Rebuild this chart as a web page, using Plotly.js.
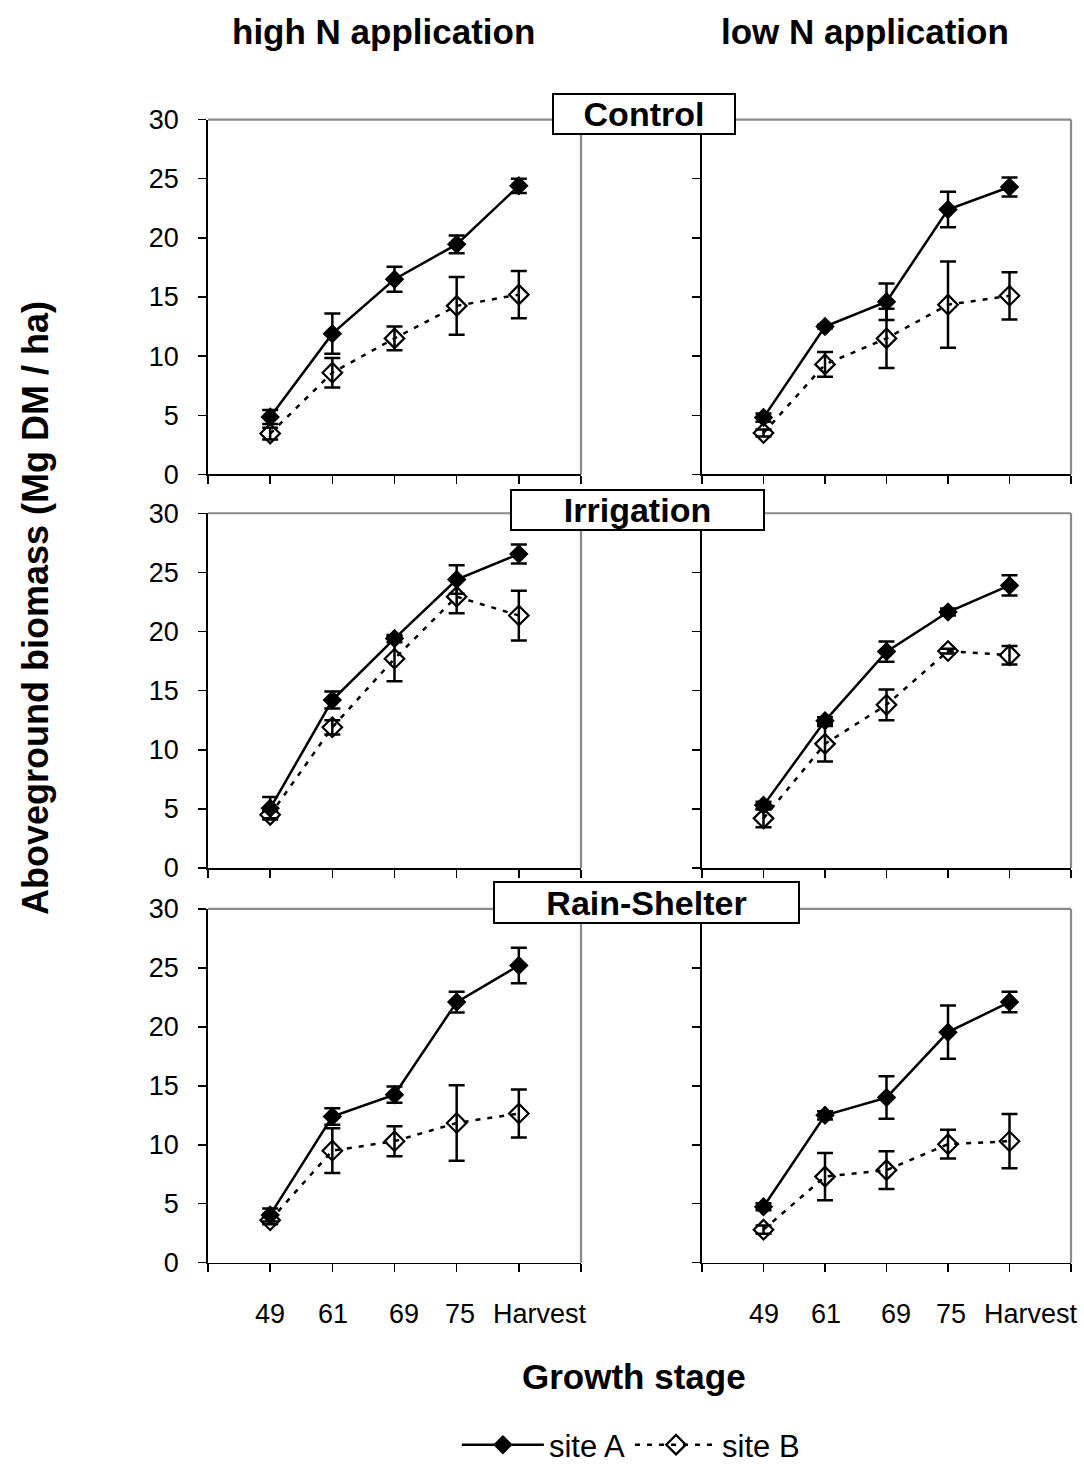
<!DOCTYPE html>
<html>
<head>
<meta charset="utf-8">
<script src="https://cdn.plot.ly/plotly-3.0.1.min.js"></script>
<style>html,body{margin:0;padding:0;background:#fff;}#chart{width:1084px;height:1472px;}</style>
</head>
<body>
<div id="chart"></div>
<script>
// ---- data ----
const stages = ['49', '61', '69', '75', 'Harvest'];
const treatments = ['Control', 'Irrigation', 'Rain-Shelter'];
const nLevels = ['high N application', 'low N application'];
const siteNames = ['site A', 'site B'];

const controlHighA = [4.85, 11.9, 16.5, 19.45, 24.4];
const controlHighAErr = [0.6, 1.7, 1.05, 0.75, 0.6];
const controlHighB = [3.45, 8.6, 11.5, 14.25, 15.2];
const controlHighBErr = [0.5, 1.25, 1.0, 2.45, 2.0];

const controlLowA = [4.8, 12.5, 14.6, 22.4, 24.3];
const controlLowAErr = [0.35, 0.15, 1.55, 1.5, 0.8];
const controlLowB = [3.5, 9.3, 11.5, 14.35, 15.1];
const controlLowBErr = [0.3, 1.05, 2.5, 3.65, 2.0];

const irrHighA = [5.05, 14.2, 19.4, 24.4, 26.55];
const irrHighAErr = [0.95, 0.72, 0.3, 1.2, 0.8];
const irrHighB = [4.5, 11.9, 17.7, 22.95, 21.35];
const irrHighBErr = [0.3, 0.6, 1.9, 1.4, 2.1];

const irrLowA = [5.3, 12.45, 18.3, 21.65, 23.9];
const irrLowAErr = [0.3, 0.3, 0.85, 0.3, 0.85];
const irrLowB = [4.2, 10.5, 13.8, 18.35, 18.0];
const irrLowBErr = [0.75, 1.5, 1.3, 0.2, 0.78];

const rainHighA = [4.05, 12.4, 14.25, 22.1, 25.2];
const rainHighAErr = [0.55, 0.7, 0.68, 0.88, 1.5];
const rainHighB = [3.6, 9.5, 10.3, 11.85, 12.65];
const rainHighBErr = [0.35, 1.9, 1.27, 3.2, 2.03];

const rainLowA = [4.75, 12.5, 14.0, 19.55, 22.1];
const rainLowAErr = [0.3, 0.35, 1.8, 2.25, 0.87];
const rainLowB = [2.8, 7.3, 7.85, 10.05, 10.3];
const rainLowBErr = [0.35, 2.0, 1.6, 1.22, 2.3];

// panels: [row][col] -> [A, Aerr, B, Berr]
const panels = [
  [[controlHighA, controlHighAErr, controlHighB, controlHighBErr], [controlLowA, controlLowAErr, controlLowB, controlLowBErr]],
  [[irrHighA, irrHighAErr, irrHighB, irrHighBErr], [irrLowA, irrLowAErr, irrLowB, irrLowBErr]],
  [[rainHighA, rainHighAErr, rainHighB, rainHighBErr], [rainLowA, rainLowAErr, rainLowB, rainLowBErr]]
];

// ---- layout geometry ----
const W = 1084, H = 1472;
const colPx = [[208, 581], [702, 1071]];
const rowPx = [[120, 476], [515, 871], [912, 1267]];
const FONT = 'Liberation Sans, Arial, sans-serif';
// horizontal pixel offsets of the hand-placed stage labels in the original
const labelShift = [0, 1, 9, 3, 21];

const xPos = stages.map((s, i) => i + 1);
const tickVals = [0].concat(xPos, [stages.length + 1]);

const traces = [];
const layout = {
  width: W, height: H,
  margin: {l: 0, r: 0, t: 0, b: 0},
  paper_bgcolor: '#ffffff', plot_bgcolor: '#ffffff',
  font: {family: FONT, color: '#000'},
  showlegend: true,
  legend: {
    orientation: 'h', x: 0.582, xanchor: 'center', y: 1 - 1450 / H, yanchor: 'middle',
    font: {family: FONT, size: 31, color: '#000'},
    itemwidth: 82, traceorder: 'normal', bgcolor: 'rgba(0,0,0,0)'
  },
  shapes: [],
  annotations: []
};

let k = 0;
for (let r = 0; r < 3; r++) {
  for (let c = 0; c < 2; c++) {
    k++;
    const sfx = k === 1 ? '' : String(k);
    const xa = 'xaxis' + sfx, ya = 'yaxis' + sfx;
    const [A, Aerr, B, Berr] = panels[r][c];
    traces.push({
      type: 'scatter', mode: 'lines+markers', x: xPos, y: B,
      xaxis: 'x' + sfx, yaxis: 'y' + sfx,
      name: siteNames[1], showlegend: k === 1, legendrank: 2,
      line: {color: '#000', width: 2.5, dash: '5px,7px'},
      marker: {symbol: 'diamond-open', size: 15, color: '#000', line: {width: 2.2, color: '#000'}},
      error_y: {type: 'data', array: Berr, visible: true, color: '#000', thickness: 2.5, width: 8}
    });
    traces.push({
      type: 'scatter', mode: 'lines+markers', x: xPos, y: A,
      xaxis: 'x' + sfx, yaxis: 'y' + sfx,
      name: siteNames[0], showlegend: k === 1, legendrank: 1,
      line: {color: '#000', width: 2.5},
      marker: {symbol: 'diamond', size: 15, color: '#000'},
      error_y: {type: 'data', array: Aerr, visible: true, color: '#000', thickness: 2.5, width: 8}
    });
    layout[xa] = {
      domain: [colPx[c][0] / W, colPx[c][1] / W],
      range: [0, stages.length + 1],
      tickmode: 'array', tickvals: tickVals,
      showticklabels: false,
      ticks: 'outside', ticklen: 8, tickwidth: 1.5, tickcolor: '#000',
      showline: true, linecolor: '#000', linewidth: 1.8,
      showgrid: false, zeroline: false, fixedrange: true,
      anchor: 'y' + sfx
    };
    layout[ya] = {
      domain: [1 - rowPx[r][1] / H, 1 - rowPx[r][0] / H],
      range: [0, 30], dtick: 5, tick0: 0,
      showticklabels: c === 0,
      ticks: 'outside', ticklen: 8, tickwidth: 1.5, tickcolor: '#000',
      ticklabelstandoff: 14,
      showline: true, linecolor: '#000', linewidth: 1.8,
      showgrid: false, zeroline: false, fixedrange: true,
      tickfont: {family: FONT, size: 27, color: '#000'},
      anchor: 'x' + sfx
    };
    // grey top/right frame
    layout.shapes.push({type: 'line', xref: 'x' + sfx + ' domain', yref: 'y' + sfx + ' domain',
      x0: 0, x1: 1, y0: 1, y1: 1, line: {color: '#8a8a8a', width: 2.2}});
    layout.shapes.push({type: 'line', xref: 'x' + sfx + ' domain', yref: 'y' + sfx + ' domain',
      x0: 1, x1: 1, y0: 0, y1: 1, line: {color: '#8a8a8a', width: 2.2}});
    // growth-stage labels under the bottom row
    if (r === 2) {
      stages.forEach((s, i) => {
        layout.annotations.push({
          text: s, xref: 'x' + sfx, yref: 'y' + sfx + ' domain',
          x: xPos[i], y: 0, xanchor: 'center', yanchor: 'middle',
          xshift: labelShift[i], yshift: -51, showarrow: false,
          font: {family: FONT, size: 27, color: '#000'}
        });
      });
    }
  }
}

// treatment labels (boxed)
const boxes = [
  {cx: 644, cy: 114, w: 184, h: 42},
  {cx: 637, cy: 512, w: 255, h: 42},
  {cx: 646, cy: 906, w: 307, h: 43}
];
treatments.forEach((t, i) => {
  const b = boxes[i];
  layout.annotations.push({
    text: '<b>' + t + '</b>', xref: 'paper', yref: 'paper',
    x: b.cx / W, y: 1 - b.cy / H, xanchor: 'center', yanchor: 'middle',
    showarrow: false, width: b.w - 4, height: b.h - 4,
    bgcolor: '#ffffff', bordercolor: '#000', borderwidth: 2, borderpad: 0,
    font: {family: FONT, size: 34, color: '#000'}
  });
});

// column titles
[[383, nLevels[0]], [865, nLevels[1]]].forEach(([cx, t]) => {
  layout.annotations.push({
    text: '<b>' + t + '</b>', xref: 'paper', yref: 'paper',
    x: cx / W, y: 1 - 32 / H, xanchor: 'center', yanchor: 'middle',
    showarrow: false, font: {family: FONT, size: 35, color: '#000'}
  });
});

// axis titles
layout.annotations.push({
  text: '<b>Aboveground biomass (Mg DM / ha)</b>', xref: 'paper', yref: 'paper',
  x: 36 / W, y: 1 - 610 / H, xanchor: 'center', yanchor: 'middle', textangle: -90,
  showarrow: false, font: {family: FONT, size: 36, color: '#000'}
});
layout.annotations.push({
  text: '<b>Growth stage</b>', xref: 'paper', yref: 'paper',
  x: 634 / W, y: 1 - 1381 / H, xanchor: 'center', yanchor: 'middle',
  showarrow: false, font: {family: FONT, size: 35, color: '#000'}
});

Plotly.newPlot('chart', traces, layout, {staticPlot: true, displayModeBar: false});
</script>
</body>
</html>
